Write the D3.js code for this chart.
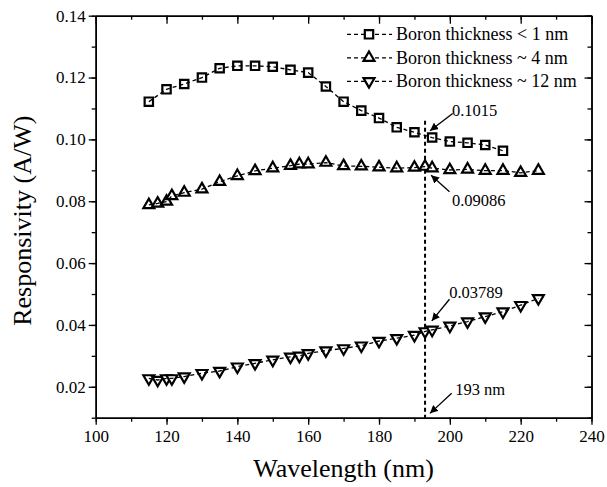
<!DOCTYPE html>
<html>
<head>
<meta charset="utf-8">
<script src="https://cdn.jsdelivr.net/npm/d3@7"></script>
<style>
  body { margin: 0; background: #fff; }
  svg { display: block; }
  text { font-family: "Liberation Serif", "Times New Roman", serif; fill: #000; }
</style>
</head>
<body>
<svg id="chart" width="607" height="487"></svg>
<script>
// data
const wl_thin = [115,120,125,130,135,140,145,150,155,160,165,170,175,180,185,190,195,200,205,210,215];
const resp_thin = [0.1122,0.1162,0.1179,0.1200,0.1230,0.1238,0.1238,0.1235,0.1225,0.1216,0.1171,0.1122,0.1093,0.1069,0.1039,0.1023,0.1006,0.0993,0.0989,0.0982,0.0963];

const wl_thick = [115,117.5,120,121.5,125,130,135,140,145,150,155,157.5,160,165,170,175,180,185,190,193,195,200,205,210,215,220,225];
const resp_4nm = [0.0788,0.0793,0.0799,0.0817,0.0828,0.0839,0.0863,0.0882,0.0898,0.0907,0.0915,0.0920,0.0920,0.0925,0.0914,0.0913,0.0910,0.0907,0.0909,0.0912,0.0907,0.0901,0.0903,0.0899,0.0899,0.0892,0.0899];
const resp_12nm = [0.0227,0.0222,0.0227,0.0227,0.0233,0.0244,0.0251,0.0265,0.0276,0.0287,0.0297,0.0300,0.0308,0.0317,0.0324,0.0333,0.0348,0.0357,0.0367,0.0379,0.0384,0.0397,0.0411,0.0427,0.0443,0.0464,0.0486];

const series_names = ["Boron thickness < 1 nm", "Boron thickness ~ 4 nm", "Boron thickness ~ 12 nm"];
const x_ticks = [100,120,140,160,180,200,220,240];
const y_ticks = [0.02,0.04,0.06,0.08,0.10,0.12,0.14];

const marker_wl = 193;
const marker_top = 0.106;
// annotations: text + arrow (tail -> tip), in data units
const notes = [
    { label: "0.1015",  tx: 200.6, ty: 0.1076, x0: 200.8, y0: 0.1084, x1: 194.4, y1: 0.1028 },
    { label: "0.09086", tx: 200.6, ty: 0.0785, x0: 199.9, y0: 0.0831, x1: 194.7, y1: 0.0884 },
    { label: "0.03789", tx: 199.8, ty: 0.0486, x0: 199.9, y0: 0.0483, x1: 194.9, y1: 0.0413 },
    { label: "193 nm",  tx: 201.5, ty: 0.0175, x0: 200.5, y0: 0.0179, x1: 194.4, y1: 0.0114 }
];

const plot_left = 95.7, plot_right = 591.5, plot_top = 15.7, plot_bottom = 417.7;

const svg = d3.select("#chart");

const x_scale = d3.scaleLinear().domain([100, 240]).range([plot_left, plot_right]);
const y_scale = d3.scaleLinear().domain([0.01, 0.14]).range([plot_bottom, plot_top]);

const minor_x = d3.range(100, 241, 10);
const minor_y = d3.range(1, 15).map(d => d / 100);

function styleAxis(g) {
    g.selectAll("path.domain").attr("stroke", "#000").attr("stroke-width", 1.5);
    g.selectAll(".tick line").attr("stroke", "#000").attr("stroke-width", 1.3);
}

// bottom axis, ticks out
svg.append("g")
    .attr("transform", `translate(0,${plot_bottom})`)
    .call(d3.axisBottom(x_scale).tickValues(minor_x).tickSize(4).tickSizeOuter(0).tickFormat(""))
    .call(styleAxis);
svg.append("g")
    .attr("transform", `translate(0,${plot_bottom})`)
    .call(d3.axisBottom(x_scale).tickValues(x_ticks).tickSize(7).tickSizeOuter(0).tickPadding(5).tickFormat(d3.format("d")))
    .call(styleAxis)
    .call(g => g.selectAll("text").style("font-size", "17px").style("font-family", "Liberation Serif"));

// left axis, ticks out
svg.append("g")
    .attr("transform", `translate(${plot_left},0)`)
    .call(d3.axisLeft(y_scale).tickValues(minor_y).tickSize(4).tickSizeOuter(0).tickFormat(""))
    .call(styleAxis);
svg.append("g")
    .attr("transform", `translate(${plot_left},0)`)
    .call(d3.axisLeft(y_scale).tickValues(y_ticks).tickSize(7).tickSizeOuter(0).tickPadding(3).tickFormat(d3.format(".2f")))
    .call(styleAxis)
    .call(g => g.selectAll("text").style("font-size", "17px").style("font-family", "Liberation Serif"));

// top and right axes, ticks in
svg.append("g")
    .attr("transform", `translate(0,${plot_top})`)
    .call(d3.axisTop(x_scale).tickValues(minor_x).tickSize(-4).tickSizeOuter(0).tickFormat(""))
    .call(styleAxis);
svg.append("g")
    .attr("transform", `translate(0,${plot_top})`)
    .call(d3.axisTop(x_scale).tickValues(x_ticks).tickSize(-8).tickSizeOuter(0).tickFormat(""))
    .call(styleAxis);
svg.append("g")
    .attr("transform", `translate(${plot_right},0)`)
    .call(d3.axisRight(y_scale).tickValues(minor_y).tickSize(-4).tickSizeOuter(0).tickFormat(""))
    .call(styleAxis);
svg.append("g")
    .attr("transform", `translate(${plot_right},0)`)
    .call(d3.axisRight(y_scale).tickValues(y_ticks).tickSize(-7).tickSizeOuter(0).tickFormat(""))
    .call(styleAxis);

// axis titles
svg.append("text")
    .attr("x", (plot_left + plot_right) / 2)
    .attr("y", 477)
    .attr("text-anchor", "middle")
    .style("font-size", "26px")
    .text("Wavelength (nm)");
svg.append("text")
    .attr("transform", `translate(31,${(plot_top + plot_bottom) / 2 + 4}) rotate(-90)`)
    .attr("text-anchor", "middle")
    .style("font-size", "26px")
    .text("Responsivity (A/W)");

// 193 nm marker line
svg.append("line")
    .attr("x1", x_scale(marker_wl)).attr("x2", x_scale(marker_wl))
    .attr("y1", y_scale(marker_top)).attr("y2", y_scale(0.01))
    .attr("stroke", "#000")
    .attr("stroke-width", 2)
    .attr("stroke-dasharray", "4,3");

const series = [
    { wl: wl_thin,  resp: resp_thin,  symbol: d3.symbolSquare,   size: 70, rot: 0 },
    { wl: wl_thick, resp: resp_4nm,   symbol: d3.symbolTriangle, size: 52, rot: 0 },
    { wl: wl_thick, resp: resp_12nm,  symbol: d3.symbolTriangle, size: 52, rot: 180 }
];

const line = d3.line().x(d => x_scale(d[0])).y(d => y_scale(d[1]));

series.forEach(function (s) {
    let pts = s.wl.map((w, i) => [w, s.resp[i]]);
    let sym = d3.symbol().type(s.symbol).size(s.size);
    svg.append("g")
        .selectAll("path")
        .data(pts)
        .join("path")
        .attr("d", sym)
        .attr("transform", d => `translate(${x_scale(d[0])},${y_scale(d[1])}) rotate(${s.rot})`)
        .attr("fill", "#fff")
        .attr("stroke", "#000")
        .attr("stroke-width", 2.2);
    svg.append("path")
        .datum(pts)
        .attr("d", line)
        .attr("fill", "none")
        .attr("stroke", "#000")
        .attr("stroke-width", 1.3)
        .attr("stroke-dasharray", "4,3");
});

// legend
const legend = svg.append("g");
series.forEach(function (s, i) {
    let cy = 34.3 + i * 23.5;
    legend.append("line")
        .attr("x1", 347).attr("x2", 392)
        .attr("y1", cy).attr("y2", cy)
        .attr("stroke", "#000")
        .attr("stroke-width", 1.3)
        .attr("stroke-dasharray", "4,3");
    legend.append("path")
        .attr("d", d3.symbol().type(s.symbol).size(s.size))
        .attr("transform", `translate(369,${cy}) rotate(${s.rot})`)
        .attr("fill", "#fff")
        .attr("stroke", "#000")
        .attr("stroke-width", 2.2);
    legend.append("text")
        .attr("x", 396)
        .attr("y", cy + 6)
        .style("font-size", "18px")
        .text(series_names[i]);
});

// annotations
svg.append("defs").append("marker")
    .attr("id", "arrow")
    .attr("viewBox", "0 0 10 10")
    .attr("refX", 10).attr("refY", 5)
    .attr("markerWidth", 8).attr("markerHeight", 8)
    .attr("markerUnits", "userSpaceOnUse")
    .attr("orient", "auto")
    .append("path")
    .attr("d", "M0,0 L10,5 L0,10 Z")
    .attr("fill", "#000");

const note_g = svg.append("g");
notes.forEach(function (n) {
    note_g.append("line")
        .attr("x1", x_scale(n.x0)).attr("y1", y_scale(n.y0))
        .attr("x2", x_scale(n.x1)).attr("y2", y_scale(n.y1))
        .attr("stroke", "#000")
        .attr("stroke-width", 1.3)
        .attr("marker-end", "url(#arrow)");
    note_g.append("text")
        .attr("x", x_scale(n.tx))
        .attr("y", y_scale(n.ty))
        .style("font-size", "16.5px")
        .text(n.label);
});
</script>
</body>
</html>
